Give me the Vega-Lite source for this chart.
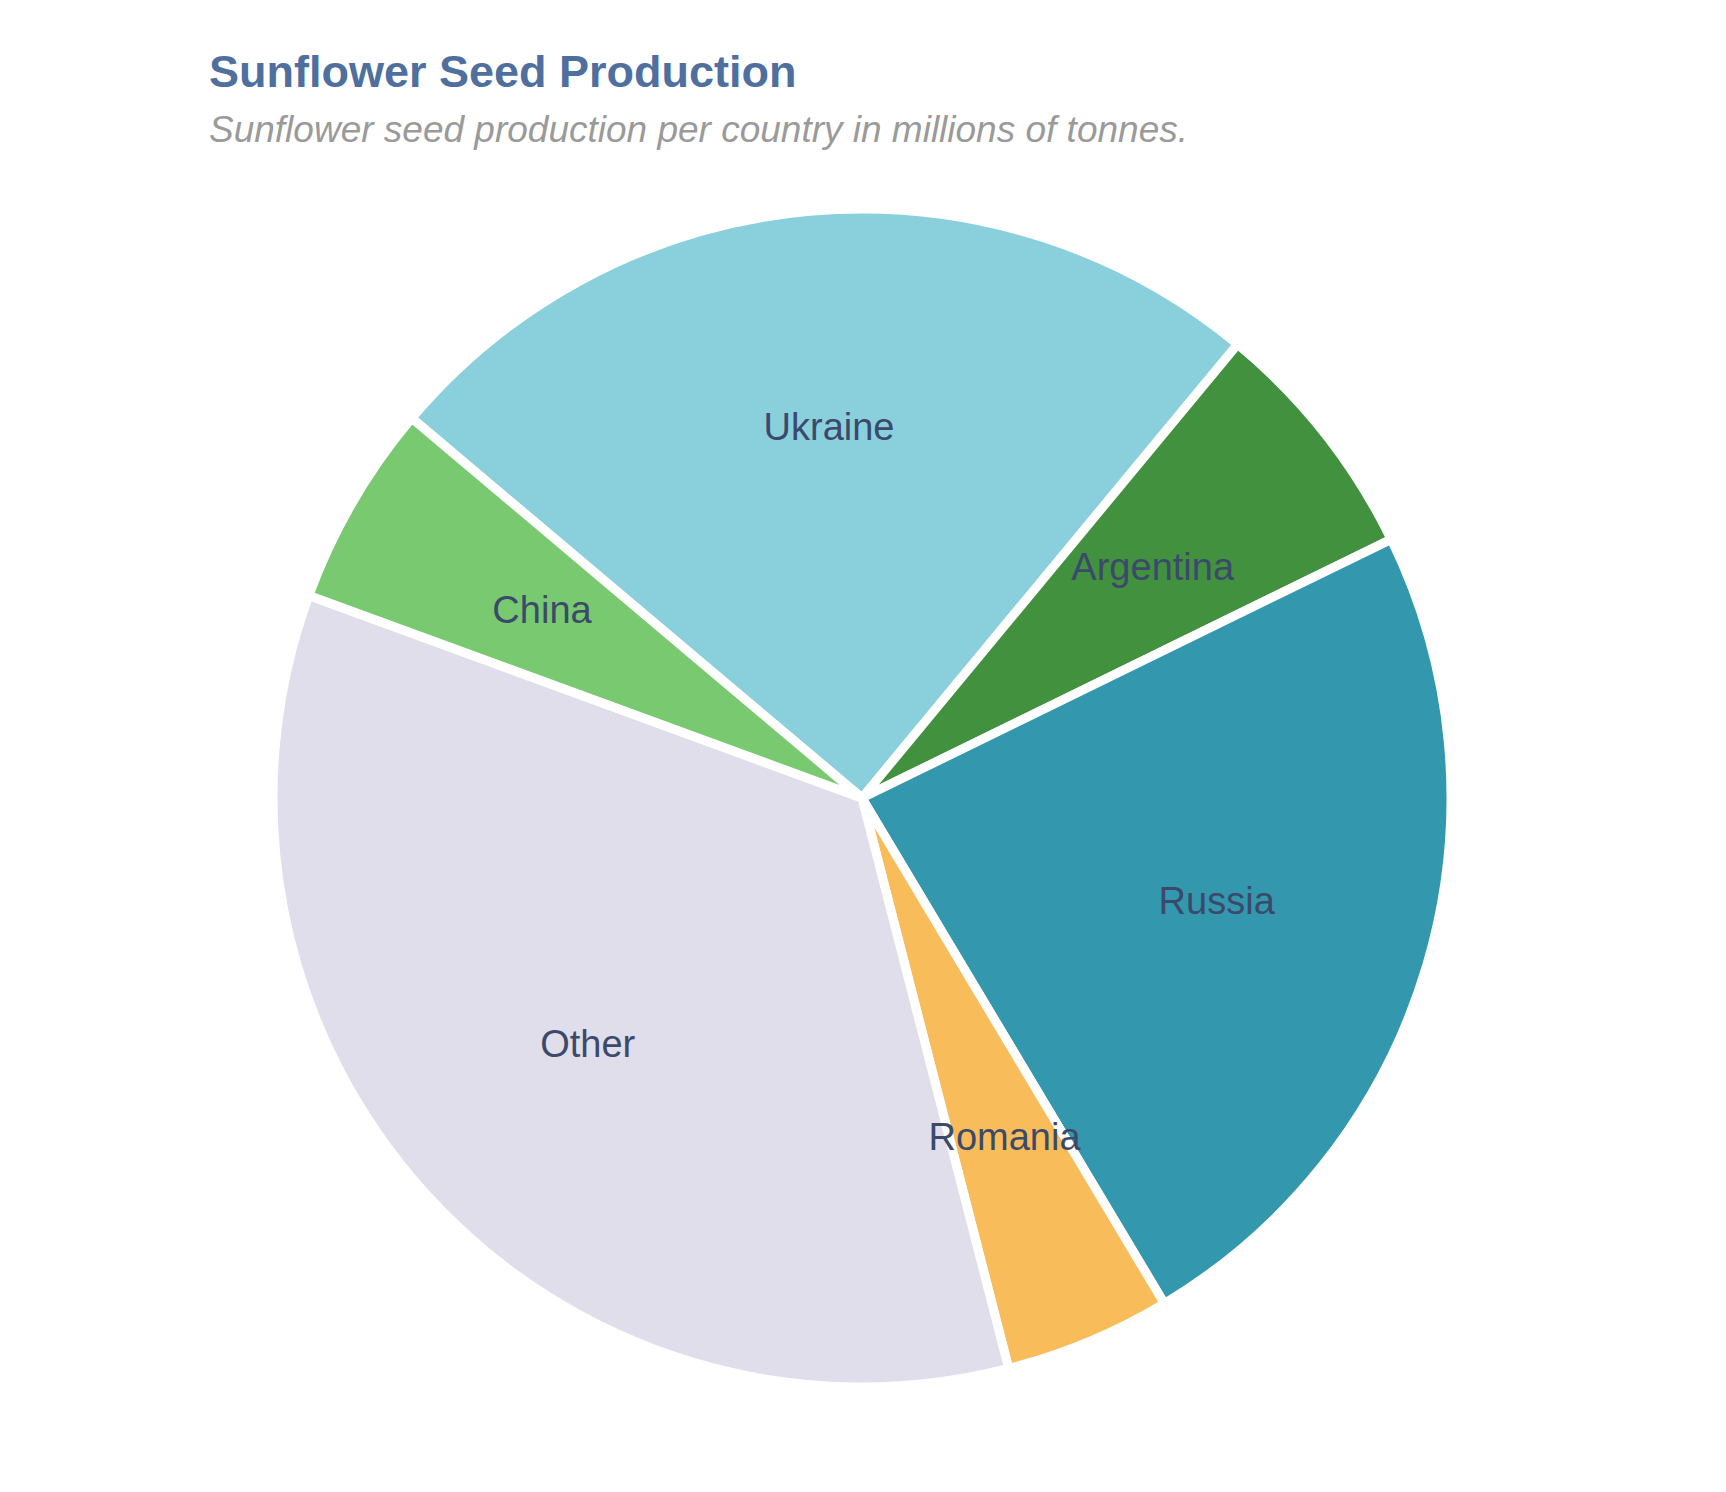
{
  "$schema": "https://vega.github.io/schema/vega-lite/v6.json",
  "autosize": {"type": "none"},
  "width": 1724,
  "height": 1196,
  "padding": {"left": 0, "top": 200, "right": 0, "bottom": 0},
  "background": "white",
  "title": {
    "text": "Sunflower Seed Production",
    "subtitle": "Sunflower seed production per country in millions of tonnes.",
    "anchor": "start",
    "frame": "group",
    "dx": 209,
    "offset": 42,
    "font": "Liberation Sans",
    "fontSize": 45,
    "fontWeight": "bold",
    "color": "#4F6F9F",
    "subtitleFont": "Liberation Sans",
    "subtitleFontSize": 37,
    "subtitleFontStyle": "italic",
    "subtitleColor": "#9A9A9A",
    "subtitlePadding": 17
  },
  "data": {
    "values": [
      {"country": "Ukraine", "production": 12.5, "idx": 1},
      {"country": "Argentina", "production": 3.4, "idx": 2},
      {"country": "Russia", "production": 11.9, "idx": 3},
      {"country": "Romania", "production": 2.3, "idx": 4},
      {"country": "Other", "production": 17.4, "idx": 5},
      {"country": "China", "production": 2.8, "idx": 6}
    ]
  },
  "encoding": {
    "theta": {"field": "production", "type": "quantitative", "stack": true, "scale": {"range": [-0.87, 5.4132]}},
    "order": {"field": "idx", "type": "quantitative"}
  },
  "layer": [
    {
      "mark": {"type": "arc", "outerRadius": 589, "stroke": "white", "strokeWidth": 9, "strokeJoin": "miter"},
      "encoding": {
        "color": {
          "field": "country",
          "type": "nominal",
          "scale": {
            "domain": ["Ukraine", "Argentina", "Russia", "Romania", "Other", "China"],
            "range": ["#8AD0DC", "#41913F", "#3398AE", "#F9BC5B", "#E0DEEB", "#78C96F"]
          },
          "legend": null
        }
      }
    },
    {
      "mark": {"type": "text", "radius": 370, "font": "Liberation Sans", "fontSize": 38, "color": "#3B4A6A"},
      "encoding": {
        "text": {"field": "country", "type": "nominal"}
      }
    }
  ],
  "config": {"view": {"stroke": null}}
}
